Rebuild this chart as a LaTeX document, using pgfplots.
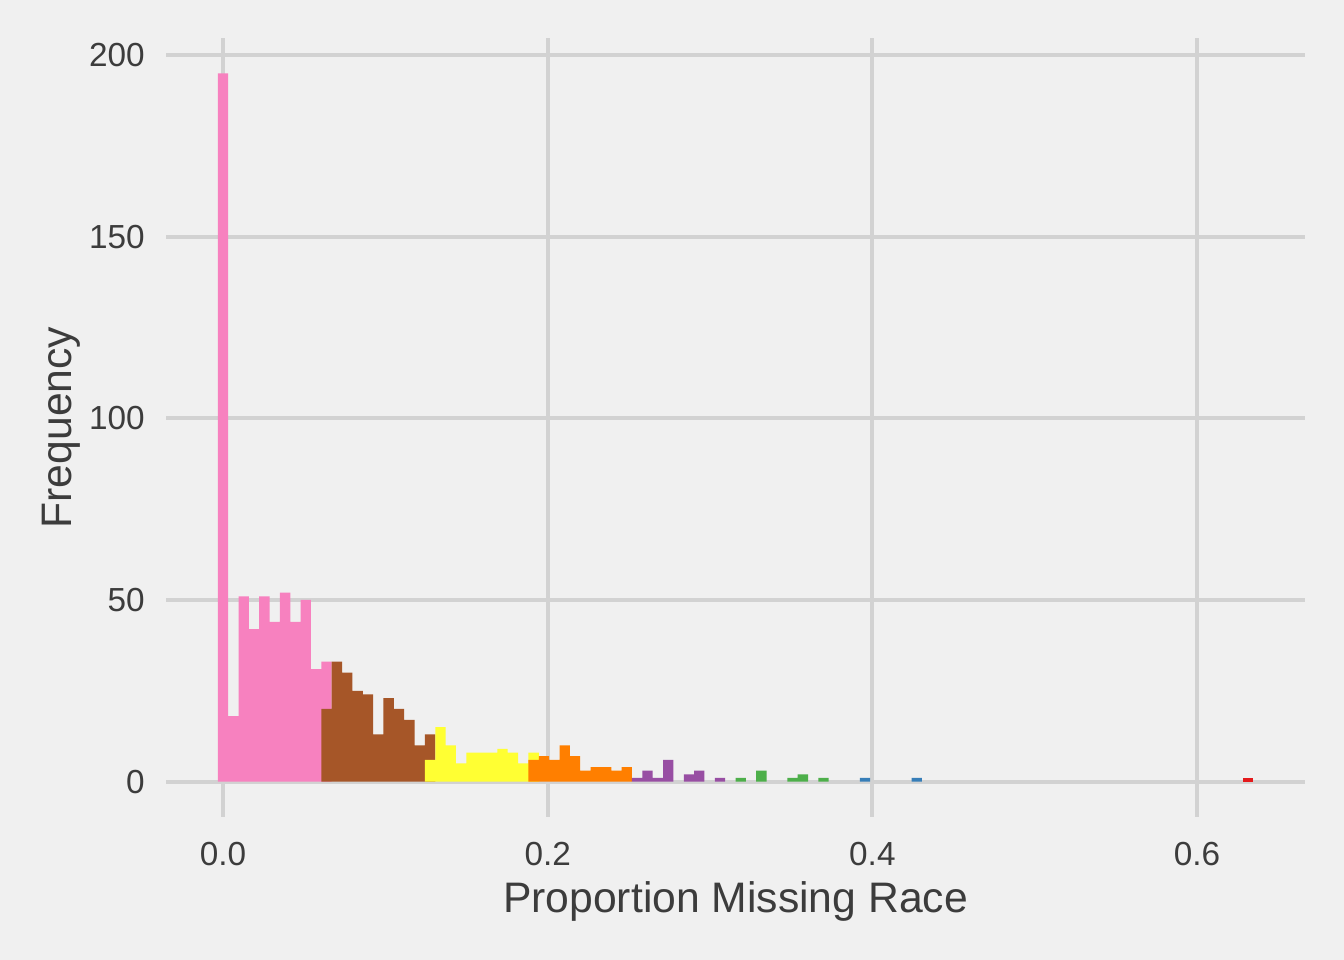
\documentclass[border=0pt]{standalone}
\usepackage{pgfplots}
\pgfplotsset{compat=1.18}
\usepackage{fontspec}
\setmainfont{Liberation Sans}
\definecolor{bg}{HTML}{F0F0F0}
\definecolor{gridc}{HTML}{D2D2D2}
\definecolor{txt}{HTML}{3C3C3C}
\definecolor{cpink}{HTML}{F781BF}
\definecolor{cbrown}{HTML}{A65628}
\definecolor{cyellow}{HTML}{FFFF33}
\definecolor{corange}{HTML}{FF7F00}
\definecolor{cpurple}{HTML}{984EA3}
\definecolor{cgreen}{HTML}{4DAF4A}
\definecolor{cblue}{HTML}{377EB8}
\definecolor{cred}{HTML}{E41A1C}
\begin{document}
\begin{tikzpicture}
\fill[bg] (-49.8pt,-42.9pt) rectangle (353.4pt,245.1pt);
\useasboundingbox (-49.8pt,-42.9pt) rectangle (353.4pt,245.1pt);
\begin{axis}[
  at={(0pt,0pt)}, anchor=south west,
  scale only axis, width=341.7pt, height=233.7pt,
  xmin=-0.0351, xmax=0.6665, ymin=-9.75, ymax=204.75,
  axis line style={draw=none}, tick style={draw=none},
  grid=major, major grid style={gridc, line width=1.2pt},
  xtick={0,0.2,0.4,0.6}, xticklabels={0.0,0.2,0.4,0.6},
  ytick={0,50,100,150,200},
  /pgf/number format/assume math mode=true,
  tick label style={inner sep=0pt, text=txt, font=\fontsize{10}{12}\selectfont},
  yticklabel style={anchor=east, xshift=-6.2pt},
  xticklabel style={anchor=north, yshift=-3pt},
  xlabel={Proportion Missing Race}, ylabel={Frequency},
  label style={text=txt, font=\fontsize{12.8}{15}\selectfont, inner sep=0pt},
  xlabel style={at={(axis description cs:0.5,0)}, anchor=base, yshift=-28.8pt},
  ylabel style={at={(axis description cs:0,0.5)}, anchor=base, yshift=28.2pt},
  ybar, bar width=0.006378, bar shift=0pt,
  every axis plot/.append style={draw=none},
  clip=false,
]
\addplot[fill=cpink] coordinates {(0,195) (0.006378,18) (0.012756,51) (0.019134,42) (0.025512,51) (0.03189,44) (0.038268,52) (0.044646,44) (0.051024,50) (0.057402,31) (0.06378,33)};
\addplot[fill=cbrown] coordinates {(0.06378,20) (0.070158,33) (0.076536,30) (0.082914,25) (0.089292,24) (0.09567,13) (0.102048,23) (0.108426,20) (0.114804,17) (0.121182,10) (0.12756,13)};
\addplot[fill=cyellow] coordinates {(0.12756,6) (0.133938,15) (0.140316,10) (0.146694,5) (0.153072,8) (0.15945,8) (0.165828,8) (0.172206,9) (0.178584,8) (0.184962,5) (0.19134,8)};
\addplot[fill=corange] coordinates {(0.19134,6) (0.197718,7) (0.204096,6) (0.210474,10) (0.216852,7) (0.22323,3) (0.229608,4) (0.235986,4) (0.242364,3) (0.248742,4)};
\addplot[fill=cpurple] coordinates {(0.25512,1) (0.261498,3) (0.267876,1) (0.274254,6) (0.28701,2) (0.293388,3) (0.306144,1)};
\addplot[fill=cgreen] coordinates {(0.3189,1) (0.331656,3) (0.35079,1) (0.357168,2) (0.369924,1)};
\addplot[fill=cblue] coordinates {(0.395436,1) (0.427326,1)};
\addplot[fill=cred] coordinates {(0.631422,1)};
\end{axis}
\end{tikzpicture}
\end{document}
